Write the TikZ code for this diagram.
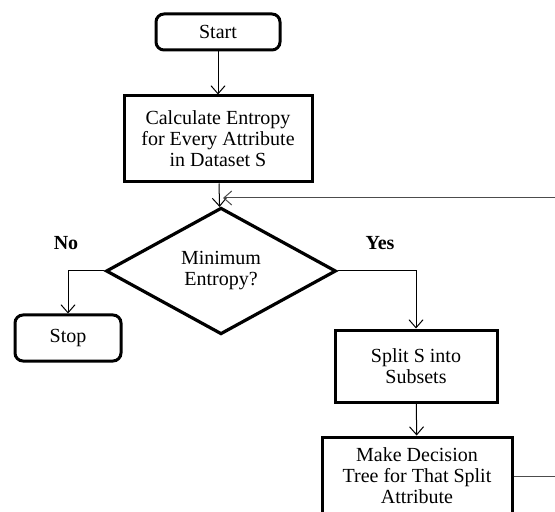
\documentclass[tikz,border=0pt]{standalone}
\usepackage{fontspec}
\setmainfont{Liberation Serif}
\usetikzlibrary{shapes.geometric,arrows.meta}

\begin{document}
\begin{tikzpicture}[x=0.5pt, y=-0.5pt,
  box/.style={draw, line width=1.5pt, align=center, inner sep=1pt,
    font=\fontsize{10}{10.5}\selectfont},
  term/.style={box, rounded corners=4pt},
  decide/.style={box, diamond, line width=1.6pt},
  flow/.style={-{Straight Barb[length=4pt,width=7pt]}, line width=0.5pt},
  answer/.style={font=\bfseries\fontsize{10}{12}\selectfont}]

\useasboundingbox (0,0) rectangle (555,512);
\clip (0,0) rectangle (555,512);

\node [term, minimum width=62pt, minimum height=18pt] (start) at (218,32) {Start};
\node [box, minimum width=94pt, minimum height=43pt] (calc) at (218,139)
  {Calculate Entropy\\for Every Attribute\\in Dataset S};
\node [decide, minimum width=115pt, minimum height=57pt] (dec) at (221,271)
  {Minimum\\Entropy?};
\node [term, minimum width=53pt, minimum height=23pt] (stop) at (68,338) {Stop};
\node [box, minimum width=81pt, minimum height=36pt] (split) at (416,366)
  {Split S into\\Subsets};
\node [box, minimum width=95pt, minimum height=39pt] (make) at (417,476)
  {Make Decision\\Tree for That Split\\Attribute};

\node [answer] (no) at (66,243) {No};
\node [answer] (yes) at (380,243) {Yes};

\coordinate (loop) at (580,198);
\coordinate (join) at (223,198);

\draw[flow] (start) -- (calc);
\draw[flow] (calc) -- (dec);
\draw[flow] (dec.west) -| (stop.north);
\draw[flow] (dec.east) -| (split.north);
\draw[flow] (split) -- (make);
\draw[flow, draw=black!70] (make.east) -| (loop) -- (join);

\end{tikzpicture}
\end{document}
